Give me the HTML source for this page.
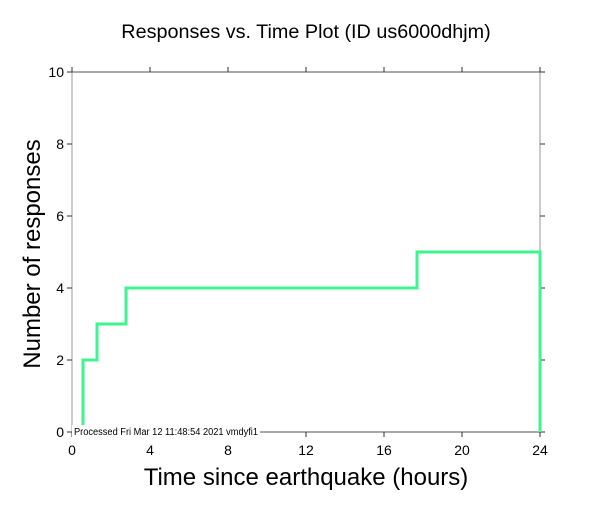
<!DOCTYPE html>
<html><head><style>body{margin:0;background:#fff}</style></head><body>
<svg width="612" height="504" xmlns="http://www.w3.org/2000/svg" font-family="Liberation Sans, sans-serif">
<rect width="612" height="504" fill="#fff"/>
<text x="306" y="38" font-size="19.8" text-anchor="middle">Responses vs. Time Plot (ID us6000dhjm)</text>
<line x1="72" y1="72" x2="72" y2="432" stroke="#999" stroke-width="1"/>
<line x1="540" y1="72" x2="540" y2="432" stroke="#999" stroke-width="1"/>
<line x1="72" y1="72" x2="540" y2="72" stroke="#555" stroke-width="1"/>
<line x1="72" y1="432" x2="540" y2="432" stroke="#555" stroke-width="1"/>
<g stroke="#333" stroke-width="1">
<line x1="67" y1="72" x2="72" y2="72"/><line x1="67" y1="144" x2="72" y2="144"/><line x1="67" y1="216" x2="72" y2="216"/><line x1="67" y1="288" x2="72" y2="288"/><line x1="67" y1="360" x2="72" y2="360"/><line x1="67" y1="432" x2="72" y2="432"/>
<line x1="540" y1="72" x2="545" y2="72"/><line x1="540" y1="144" x2="545" y2="144"/><line x1="540" y1="216" x2="545" y2="216"/><line x1="540" y1="288" x2="545" y2="288"/><line x1="540" y1="360" x2="545" y2="360"/><line x1="540" y1="432" x2="545" y2="432"/>
<line x1="72" y1="67" x2="72" y2="72"/><line x1="150" y1="67" x2="150" y2="72"/><line x1="228" y1="67" x2="228" y2="72"/><line x1="306" y1="67" x2="306" y2="72"/><line x1="384" y1="67" x2="384" y2="72"/><line x1="462" y1="67" x2="462" y2="72"/><line x1="540" y1="67" x2="540" y2="72"/>
<line x1="72" y1="432" x2="72" y2="437"/><line x1="150" y1="432" x2="150" y2="437"/><line x1="228" y1="432" x2="228" y2="437"/><line x1="306" y1="432" x2="306" y2="437"/><line x1="384" y1="432" x2="384" y2="437"/><line x1="462" y1="432" x2="462" y2="437"/><line x1="540" y1="432" x2="540" y2="437"/>
</g>
<g font-size="14" text-anchor="end">
<text x="64" y="77">10</text><text x="64" y="149">8</text><text x="64" y="221">6</text><text x="64" y="293">4</text><text x="64" y="365">2</text><text x="64" y="437">0</text>
</g>
<g font-size="14" text-anchor="middle">
<text x="72" y="455">0</text><text x="150" y="455">4</text><text x="228" y="455">8</text><text x="306" y="455">12</text><text x="384" y="455">16</text><text x="462" y="455">20</text><text x="540" y="455">24</text>
</g>
<text x="306" y="485" font-size="24" text-anchor="middle">Time since earthquake (hours)</text>
<text transform="translate(40,254) rotate(-90)" font-size="24" text-anchor="middle">Number of responses</text>
<polyline fill="none" stroke="#3cf58f" stroke-width="3" points="83,432 83,360 97,360 97,324 126,324 126,288 417,288 417,252 540,252 540,432"/>
<rect x="72" y="425" width="188" height="12" fill="#fff"/>
<text x="74" y="435" font-size="10" textLength="184" lengthAdjust="spacingAndGlyphs">Processed Fri Mar 12 11:48:54 2021 vmdyfi1</text>
</svg>
</body></html>
